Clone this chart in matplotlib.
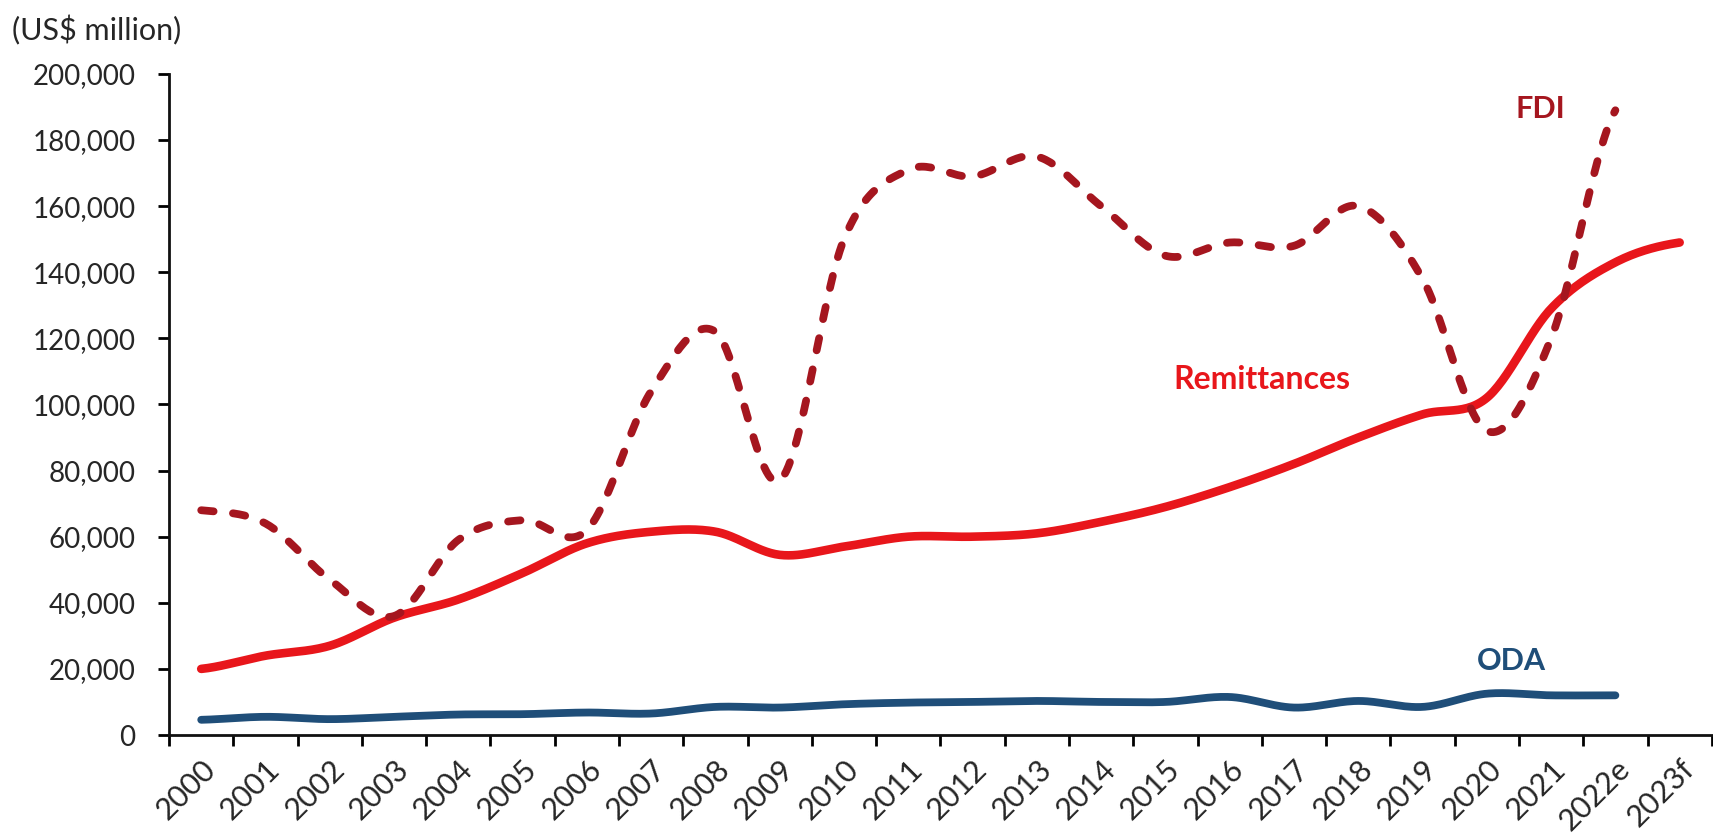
import numpy as np
import matplotlib
matplotlib.use("Agg")
import matplotlib.pyplot as plt
from matplotlib.ticker import FuncFormatter, FixedLocator

years = ["2000", "2001", "2002", "2003", "2004", "2005", "2006", "2007", "2008",
         "2009", "2010", "2011", "2012", "2013", "2014", "2015", "2016", "2017",
         "2018", "2019", "2020", "2021", "2022e", "2023f"]

remittances = [20000, 24000, 27000, 35500, 41000, 49000, 58000, 61500, 61500,
               54500, 57000, 60000, 60000, 61000, 64500, 69000, 75000, 82000,
               90000, 97000, 102000, 129000, 143000, 149000]

fdi = [68000, 64000, 47000, 36000, 59000, 65000, 62000, 104000, 122000,
       77000, 150000, 171000, 169000, 175000, 160000, 145000, 149000, 148000,
       160000, 138000, 92000, 120000, 189000]

oda = [4600, 5500, 4800, 5500, 6200, 6300, 6800, 6500, 8500, 8300, 9300, 9800,
       10000, 10300, 10000, 10000, 11500, 8300, 10300, 8500, 12500, 12000, 12000]


def smooth(xs, ys, n=30):
    # Excel-like smoothed line (cardinal spline through the data points)
    xs = np.asarray(xs, float)
    ys = np.asarray(ys, float)
    px = np.concatenate([[2 * xs[0] - xs[1]], xs, [2 * xs[-1] - xs[-2]]])
    py = np.concatenate([[ys[0]], ys, [ys[-1]]])
    outx, outy = [], []
    t = np.linspace(0, 1, n)
    for i in range(1, len(px) - 2):
        p0, p1, p2, p3 = px[i - 1], px[i], px[i + 1], px[i + 2]
        q0, q1, q2, q3 = py[i - 1], py[i], py[i + 1], py[i + 2]
        b1x = p1 + (p2 - p0) / 6
        b2x = p2 - (p3 - p1) / 6
        b1y = q1 + (q2 - q0) / 6
        b2y = q2 - (q3 - q1) / 6
        bx = (1 - t) ** 3 * p1 + 3 * (1 - t) ** 2 * t * b1x + 3 * (1 - t) * t ** 2 * b2x + t ** 3 * p2
        by = (1 - t) ** 3 * q1 + 3 * (1 - t) ** 2 * t * b1y + 3 * (1 - t) * t ** 2 * b2y + t ** 3 * q2
        outx.extend(bx)
        outy.extend(by)
    return np.array(outx), np.array(outy)


plt.rcParams['font.family'] = ['Lato', 'DejaVu Sans']

RED = '#E8161B'
DARKRED = '#A5161F'
BLUE = '#1F4E79'
TXT = '#262626'

fig = plt.figure(figsize=(17.13, 8.40), dpi=100)
ax = fig.add_axes([0.0987, 0.125, 0.9006, 0.787])

x_rem = np.arange(len(remittances)) + 0.5
x_fdi = np.arange(len(fdi)) + 0.5
x_oda = np.arange(len(oda)) + 0.5

sx, sy = smooth(x_rem, remittances)
ax.plot(sx, sy, color=RED, lw=6.2, solid_capstyle='round', zorder=3)
sx, sy = smooth(x_fdi, fdi)
ax.plot(sx, sy, color=DARKRED, lw=5.6, dashes=(1.6, 2.5), dash_capstyle='round', zorder=4)
sx, sy = smooth(x_oda, oda)
ax.plot(sx, sy, color=BLUE, lw=5.6, solid_capstyle='round', zorder=3)

ax.set_xlim(0, len(years))
ax.set_ylim(0, 200000)
ax.set_yticks(np.arange(0, 200001, 20000))
ax.yaxis.set_major_formatter(FuncFormatter(lambda v, p: f"{int(v):,}"))

ax.xaxis.set_major_locator(FixedLocator(np.arange(0, len(years) + 1)))
ax.xaxis.set_minor_locator(FixedLocator(np.arange(len(years)) + 0.5))
ax.set_xticklabels([])
ax.set_xticklabels(years, minor=True, rotation=45, ha='right', va='top',
                   rotation_mode='anchor')
ax.tick_params(axis='x', which='major', length=8, width=2, direction='out')
ax.tick_params(axis='x', which='minor', length=0, pad=14, labelsize=22, labelcolor=TXT)
ax.tick_params(axis='y', length=8, width=2, direction='out', labelsize=20,
               labelcolor=TXT, pad=16)

for s in ['top', 'right']:
    ax.spines[s].set_visible(False)
for s in ['left', 'bottom']:
    ax.spines[s].set_linewidth(2)
    ax.spines[s].set_color('#111111')

fig.text(0.007, 0.964, "(US$ million)", fontsize=22, color=TXT, ha='left', va='center')
ax.text(17.0, 107500, "Remittances", color=RED, fontsize=23, fontweight='bold',
        ha='center', va='center')
ax.text(21.34, 189500, "FDI", color=DARKRED, fontsize=22, fontweight='bold',
        ha='center', va='center')
ax.text(20.88, 22400, "ODA", color=BLUE, fontsize=22, fontweight='bold',
        ha='center', va='center')

fig.savefig("out.png", dpi=100)
